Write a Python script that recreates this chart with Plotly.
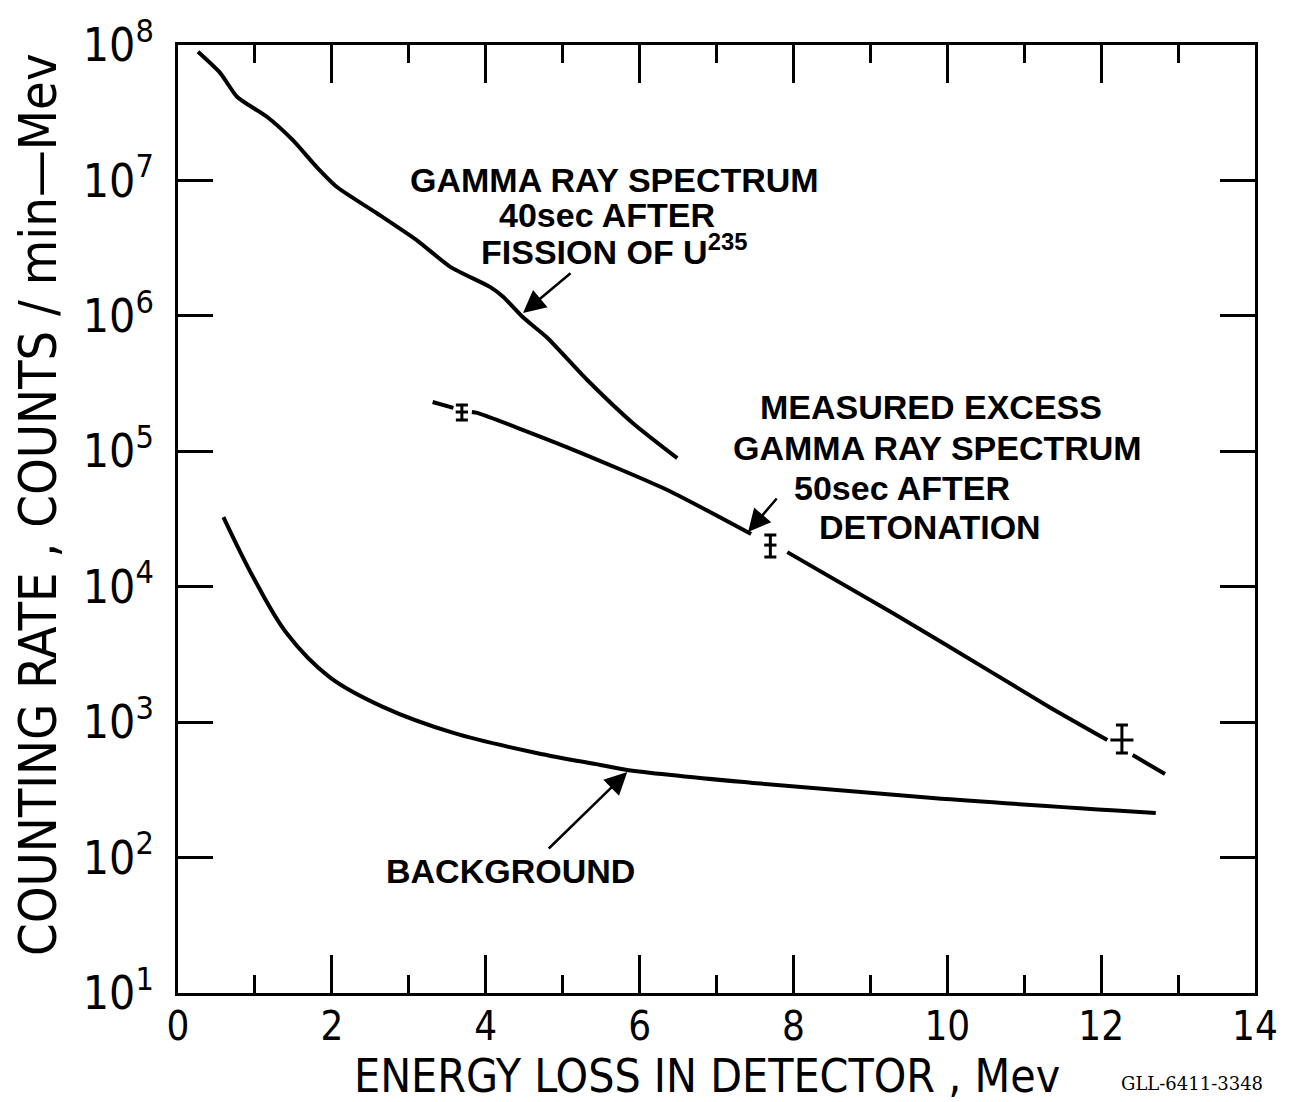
import plotly.graph_objects as go

# ---- data ----
fission_x = [0.26, 0.55, 0.77, 1.16, 1.49, 1.80, 2.07, 2.59, 3.11, 3.54, 4.06, 4.23, 4.48, 4.80, 5.32, 5.91, 6.49]
fission_y = [8.9e7, 6.2e7, 4.13e7, 2.94e7, 1.99e7, 1.26e7, 8.9e6, 5.7e6, 3.6e6, 2.3e6, 1.63e6, 1.38e6, 9.8e5, 6.9e5, 3.36e5, 1.62e5, 8.9e4]

measured_x = [3.31, 3.58, None, 3.82, 3.89, 5.06, 6.36, 7.45, None, 7.92, 9.29, 10.59, 11.33, 12.08, None, 12.41, 12.83]
measured_y = [2.31e5, 2.09e5, None, 1.95e5, 1.92e5, 1.07e5, 5.18e4, 2.45e4, None, 1.80e4, 6.40e3, 2.31e3, 1.29e3, 738, None, 571, 414]

points_x = [3.69, 7.70, 12.27]
points_y = [1.95e5, 2.03e4, 738]
points_err_plus = [0.25e5, 0.38e4, 215]
points_err_minus = [0.25e5, 0.37e4, 147]
points_xerr = [0.08, 0.08, 0.15]

background_x = [0.59, 0.98, 1.41, 1.97, 2.67, 3.58, 4.66, 5.49, 5.84, 7.47, 9.81, 12.71]
background_y = [3.27e4, 1.17e4, 4.55e3, 2.15e3, 1.29e3, 832, 592, 483, 444, 356, 275, 213]

ytick_vals = [10, 1e2, 1e3, 1e4, 1e5, 1e6, 1e7, 1e8]
ytick_text = ["10<sup>1</sup>", "10<sup>2</sup>", "10<sup>3</sup>", "10<sup>4</sup>",
              "10<sup>5</sup>", "10<sup>6</sup>", "10<sup>7</sup>", "10<sup>8</sup>"]
xtick_vals = [0, 2, 4, 6, 8, 10, 12, 14]

x_title = "ENERGY LOSS IN DETECTOR , Mev"
y_title = "COUNTING RATE , COUNTS / min\u2014Mev"

LBL = "Liberation Sans Narrow, DejaVu Sans Condensed, Liberation Sans, sans-serif"
ANN = "Liberation Sans, Arial, sans-serif"

fig = go.Figure()
fig.add_trace(go.Scatter(x=fission_x, y=fission_y, mode="lines",
                         line=dict(color="black", width=4, shape="spline", smoothing=0.6)))
fig.add_trace(go.Scatter(x=measured_x, y=measured_y, mode="lines", connectgaps=False,
                         line=dict(color="black", width=4, shape="spline", smoothing=0.6)))
fig.add_trace(go.Scatter(x=background_x, y=background_y, mode="lines",
                         line=dict(color="black", width=4, shape="spline", smoothing=1.0)))
fig.add_trace(go.Scatter(x=points_x, y=points_y, mode="markers",
                         marker=dict(symbol="line-ew", size=1, color="black", line=dict(width=0)),
                         error_y=dict(type="data", array=points_err_plus, arrayminus=points_err_minus,
                                      color="black", thickness=3, width=6),
                         error_x=dict(type="data", array=points_xerr, color="black", thickness=3, width=0)))

# arrows
arrows = [(4.485, 6.021, 49, -41), (7.41, 4.404, 30, -35), (5.84, 2.632, -80, 78)]
for ax_, ay_, dx, dy in arrows:
    fig.add_annotation(x=ax_, y=ay_, ax=dx, ay=dy, text="", showarrow=True,
                       arrowhead=2, arrowsize=1.8, arrowwidth=2.5, arrowcolor="black")

def px2paper(px, py):
    return (px - 178) / (1255 - 178), (993 - py) / (993 - 45)

texts = [
    ("GAMMA RAY SPECTRUM", 614, 180),
    ("40sec AFTER", 607, 215),
    ("FISSION OF U<sup>235</sup>", 614, 250),
    ("MEASURED EXCESS", 931, 407),
    ("GAMMA RAY SPECTRUM", 937, 448),
    ("50sec AFTER", 902, 488),
    ("DETONATION", 930, 527),
    ("BACKGROUND", 510, 871),
]
for t, px, py in texts:
    xx, yy = px2paper(px, py)
    fig.add_annotation(xref="paper", yref="paper", x=xx, y=yy,
                       text="<b>" + t + "</b>", showarrow=False, xanchor="center", yanchor="middle",
                       font=dict(family=ANN, size=34, color="black"))

xx, yy = px2paper(1192, 1083)
fig.add_annotation(xref="paper", yref="paper", x=xx, y=yy,
                   text="GLL-6411-3348", showarrow=False, xanchor="center", yanchor="middle",
                   font=dict(family="DejaVu Serif, serif", size=18, color="black"))

# axis titles
xx, yy = px2paper(707, 1076)
fig.add_annotation(xref="paper", yref="paper", x=xx, y=yy, text=x_title, showarrow=False,
                   xanchor="center", yanchor="middle", font=dict(family=LBL, size=46, color="black"))
xx, yy = px2paper(38, 505)
fig.add_annotation(xref="paper", yref="paper", x=xx, y=yy, text=y_title, showarrow=False, textangle=-90,
                   xanchor="center", yanchor="middle", font=dict(family=LBL, size=52, color="black"))

fig.update_layout(
    width=1289, height=1102,
    margin=dict(l=178, r=34, t=45, b=109),
    paper_bgcolor="white", plot_bgcolor="white",
    showlegend=False,
    font=dict(family=LBL, color="black"),
)
fig.update_xaxes(range=[0, 14], tickvals=xtick_vals, ticks="inside", ticklen=38, tickwidth=3,
                 tickcolor="black", showline=True, linewidth=3, linecolor="black", mirror="ticks",
                 showgrid=False, zeroline=False, tickfont=dict(family=LBL, size=40),
                 ticklabelstandoff=-4, automargin=False,
                 minor=dict(dtick=1, ticks="inside", ticklen=18, tickwidth=3, tickcolor="black", showgrid=False))
fig.update_yaxes(type="log", range=[1, 8], tickvals=ytick_vals, ticktext=ytick_text,
                 ticks="inside", ticklen=35, tickwidth=3, tickcolor="black",
                 showline=True, linewidth=3, linecolor="black", mirror="ticks",
                 showgrid=False, zeroline=False, tickfont=dict(family=LBL, size=46),
                 ticklabelstandoff=12, automargin=False)

fig.write_html("out.html")
